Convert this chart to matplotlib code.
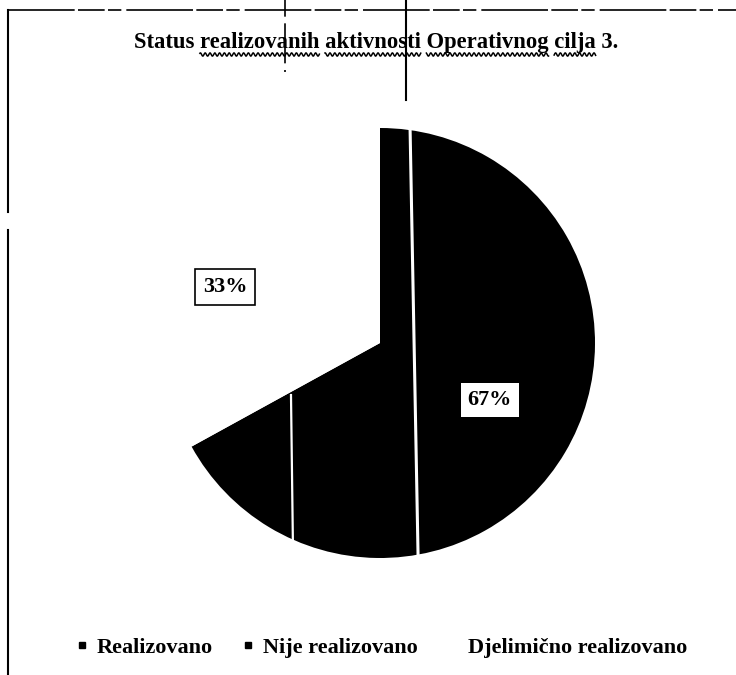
import matplotlib
matplotlib.use("Agg")
import numpy as np
import matplotlib.pyplot as plt
from matplotlib.lines import Line2D

# podaci
categories = ['Realizovano', 'Nije realizovano', 'Djelimično realizovano']
values = [67, 33, 0]
slice_colors = ['black', 'white', 'white']
legend_colors = ['black', 'black', 'white']
title = 'Status realizovanih aktivnosti Operativnog cilja 3.'
underlined = ['realizovanih', 'aktivnosti', 'Operativnog', 'cilja']

plt.rcParams['font.family'] = ['Liberation Serif', 'DejaVu Serif']
plt.rcParams['font.weight'] = 'bold'

W, H = 736, 675
fig = plt.figure(figsize=(W / 100, H / 100), dpi=100)
fig.patch.set_facecolor('white')

def fx(px):
    return px / W

def fy(py):
    return 1 - py / H

# okvir skeniranog dokumenta
frame = fig.add_axes([0, 0, 1, 1])
frame.set_xlim(0, W)
frame.set_ylim(H, 0)
frame.axis('off')
frame.plot([8, W], [10, 10], color='black', lw=1.2, dashes=(40, 2, 16, 2, 8, 3))
frame.plot([8, 8], [10, 212], color='black', lw=1.5)
frame.plot([8, 8], [230, H], color='black', lw=1.5)
frame.plot([285, 285], [0, 72], color='black', lw=1.2, dashes=(10, 4))
frame.plot([406, 406], [0, 100], color='black', lw=1.5)

# pita
cx, cy, r = 380, 343, 215
ax = fig.add_axes([fx(cx - r), fy(cy + r), 2 * r / W, 2 * r / H])
wedges, _ = ax.pie(values, colors=slice_colors, startangle=90,
                   counterclock=False, radius=1,
                   wedgeprops=dict(linewidth=0))
ax.set_xlim(-1, 1)
ax.set_ylim(-1, 1)
ax.set_aspect('equal')
ax.axis('off')

# bijele linije preko pite (trag skeniranja)
ax.plot([0.14, 0.177], [0.99, -0.986], color='white', lw=2.2)
ax.plot([-0.414, -0.405], [-0.242, -0.94], color='white', lw=1.6)

label_xy = [(0.51, -0.265), (-0.72, 0.26)]
label_box = [dict(boxstyle='square,pad=0.3', fc='white', ec='none'),
             dict(boxstyle='square,pad=0.35', fc='white', ec='black', lw=1.2)]
for v, (lx, ly), bb in zip(values, label_xy, label_box):
    ax.text(lx, ly, f'{v}%', ha='center', va='center', fontsize=16,
            fontweight='bold', bbox=bb)

# naslov + valovito podvlacenje
title_size = 16.3
t = fig.text(fx(376), fy(48), title, ha='center', va='baseline',
             fontsize=title_size, fontweight='bold')
renderer = fig.canvas.get_renderer()
x0 = t.get_window_extent(renderer).x0
for word in underlined:
    i = title.index(word)
    pre = fig.text(0, 0, title[:i], fontsize=title_size, fontweight='bold')
    wrd = fig.text(0, 0, word, fontsize=title_size, fontweight='bold')
    a = x0 + (pre.get_window_extent(renderer).width if i else 0)
    b = a + wrd.get_window_extent(renderer).width
    pre.remove()
    wrd.remove()
    xs = np.linspace(a, b, int(b - a) * 3)
    frame.plot(xs, 54.5 + 1.6 * np.sin(xs * np.pi / 2.4), color='black', lw=1.1)

handles = [Line2D([], [], ls='none', marker='s', markersize=4,
                  markerfacecolor=c, markeredgecolor=c) for c in legend_colors]
fig.legend(handles, categories, loc='center', bbox_to_anchor=(fx(382), fy(648)),
           ncol=3, frameon=False, handlelength=0.5,
           handletextpad=0.43, columnspacing=1.33,
           prop=dict(family='Liberation Serif', weight='bold', size=16))

fig.savefig('out.png', dpi=100, facecolor='white')
